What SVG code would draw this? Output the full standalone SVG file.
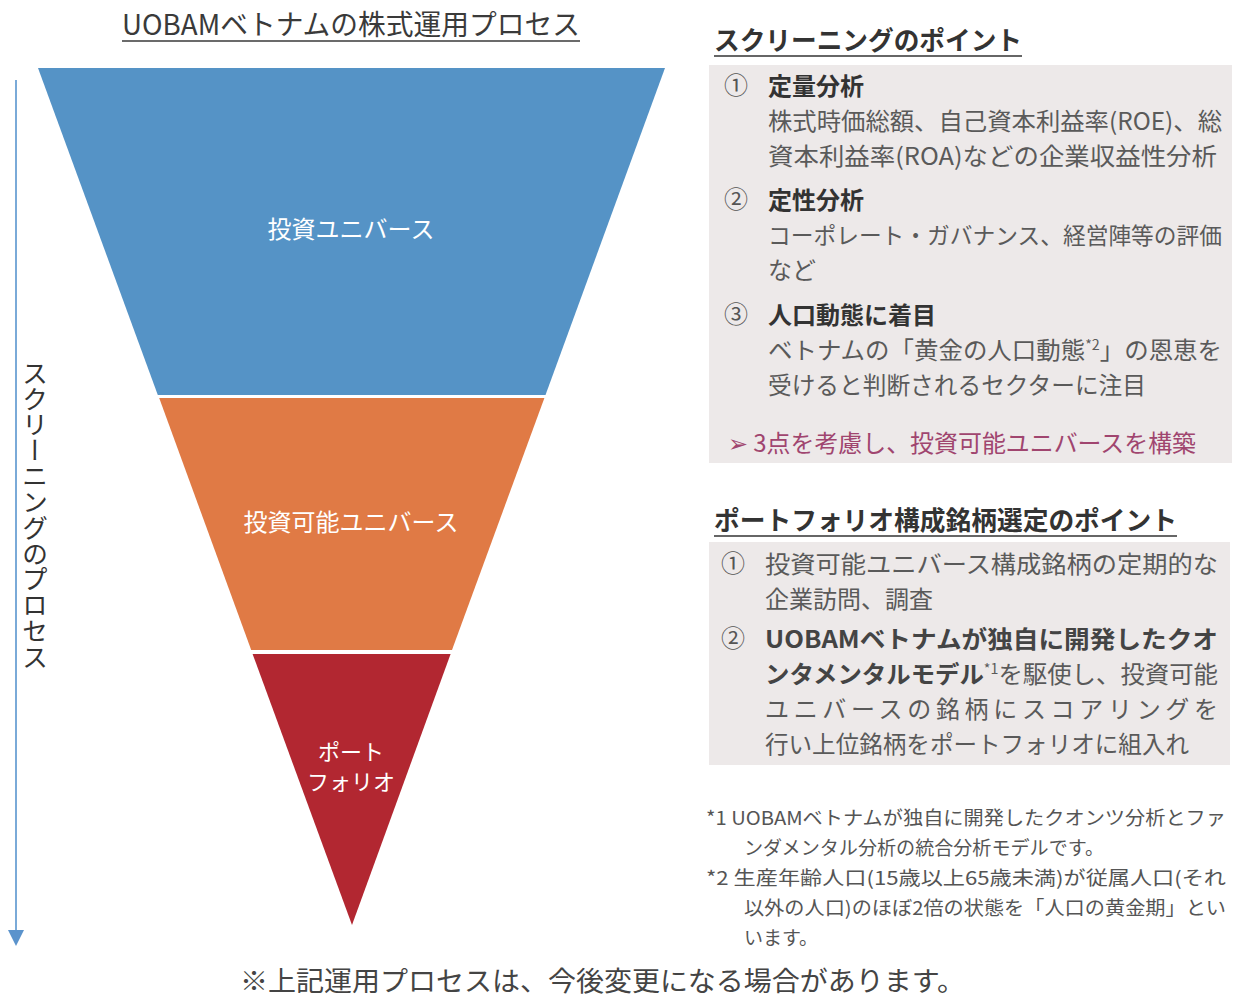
<svg xmlns="http://www.w3.org/2000/svg" width="1234" height="1000" viewBox="0 0 1234 1000">
<style>
text{font-family:"Noto Sans CJK JP","Noto Sans",sans-serif;}
.title{font-size:28px;fill:#3a3a3a;}
.head{font-size:26px;fill:#333;font-weight:bold;}
.band{font-size:24px;fill:#fff;text-anchor:middle;}
.band2{font-size:22px;fill:#fff;text-anchor:middle;}
.num{font-size:24px;fill:#555;text-anchor:middle;}
.sub{font-size:24px;fill:#333;font-weight:bold;}
.body{font-size:24px;fill:#5a5a5a;}
.bodyb{font-size:24px;fill:#444;font-weight:bold;}
.note{font-size:19px;fill:#555;}
.acc{font-size:24px;fill:#A0456F;}
.foot{font-size:27px;fill:#444;}
.sup{font-size:14px;}
</style>
<rect width="1234" height="1000" fill="#fff"/>

<g id="title">
<text class="title" x="122" y="35" textLength="458" lengthAdjust="spacingAndGlyphs">UOBAMベトナムの株式運用プロセス</text>
<line x1="122" y1="41" x2="580" y2="41" stroke="#3a3a3a" stroke-width="1.5"/>
</g>

<g id="connectors">
<line x1="16" y1="80" x2="16" y2="932" stroke="#7AAAD8" stroke-width="2"/>
<polygon points="8,930 24,930 16,946" fill="#5B93CC"/>
</g>
<g id="process-label">
<text x="35" y="360" style="writing-mode:vertical-rl;font-size:26px;fill:#333;" textLength="310" lengthAdjust="spacingAndGlyphs">スクリーニングのプロセス</text>
</g>

<g id="universe">
<polygon points="38,68 665,68 545.5,395 157.8,395" fill="#5593C6"/>
<text class="band" x="351" y="238">投資ユニバース</text>
</g>
<g id="investable">
<polygon points="159.2,398 544.4,398 452,650 251.2,650" fill="#E07A45"/>
<text class="band" x="351" y="531">投資可能ユニバース</text>
</g>
<g id="portfolio">
<polygon points="252.6,654 450.6,654 352,925" fill="#B22731"/>
<text class="band2" x="351" y="760">ポート</text>
<text class="band2" x="351" y="790">フォリオ</text>
</g>

<g id="screening">
<text class="head" x="714" y="50" textLength="308" lengthAdjust="spacingAndGlyphs">スクリーニングのポイント</text>
<line x1="714" y1="56" x2="1022" y2="56" stroke="#333" stroke-width="1.5"/>
<rect x="709" y="65" width="523" height="398" fill="#EDE9E9"/>
<text class="num" x="736" y="94">①</text>
<text class="sub" x="768" y="95">定量分析</text>
<text class="body" x="768" y="130" textLength="454" lengthAdjust="spacingAndGlyphs">株式時価総額、自己資本利益率(ROE)、総</text>
<text class="body" x="768" y="165" textLength="449" lengthAdjust="spacingAndGlyphs">資本利益率(ROA)などの企業収益性分析</text>
<text class="num" x="736" y="208">②</text>
<text class="sub" x="768" y="209">定性分析</text>
<text class="body" x="768" y="244" style="font-size:23px" textLength="454" lengthAdjust="spacingAndGlyphs">コーポレート・ガバナンス、経営陣等の評価</text>
<text class="body" x="768" y="279">など</text>
<text class="num" x="736" y="323">③</text>
<text class="sub" x="768" y="324">人口動態に着目</text>
<text class="body" x="768" y="359" textLength="454" lengthAdjust="spacingAndGlyphs">ベトナムの「黄金の人口動態<tspan class="sup" dy="-9">*2</tspan><tspan dy="9">」の恩恵を</tspan></text>
<text class="body" x="768" y="394" textLength="378" lengthAdjust="spacingAndGlyphs">受けると判断されるセクターに注目</text>
<text class="acc" x="728" y="452" textLength="468" lengthAdjust="spacingAndGlyphs">➢ 3点を考慮し、投資可能ユニバースを構築</text>
</g>

<g id="portfolio-points">
<text class="head" x="714" y="530" textLength="463" lengthAdjust="spacingAndGlyphs">ポートフォリオ構成銘柄選定のポイント</text>
<line x1="714" y1="536" x2="1177" y2="536" stroke="#333" stroke-width="1.5"/>
<rect x="709" y="542" width="521" height="223" fill="#EDE9E9"/>
<text class="num" x="733" y="572">①</text>
<text class="body" x="765" y="573" textLength="453" lengthAdjust="spacingAndGlyphs">投資可能ユニバース構成銘柄の定期的な</text>
<text class="body" x="765" y="608">企業訪問、調査</text>
<text class="num" x="733" y="647">②</text>
<text class="bodyb" x="765" y="648" textLength="453" lengthAdjust="spacingAndGlyphs">UOBAMベトナムが独自に開発したクオ</text>
<text x="765" y="683" textLength="453" lengthAdjust="spacingAndGlyphs" style="font-size:24px;"><tspan class="bodyb">ンタメンタルモデル</tspan><tspan class="body sup" dy="-9" style="font-size:14px">*1</tspan><tspan class="body" dy="9">を駆使し、投資可能</tspan></text>
<text class="body" x="765" y="718" textLength="453" lengthAdjust="spacing">ユニバースの銘柄にスコアリングを</text>
<text class="body" x="765" y="753" textLength="424" lengthAdjust="spacingAndGlyphs">行い上位銘柄をポートフォリオに組入れ</text>
</g>

<g id="notes">
<text class="note" x="706" y="825" textLength="520" lengthAdjust="spacingAndGlyphs">*1 UOBAMベトナムが独自に開発したクオンツ分析とファ</text>
<text class="note" x="744" y="855" textLength="360" lengthAdjust="spacingAndGlyphs">ンダメンタル分析の統合分析モデルです。</text>
<text class="note" x="706" y="885" textLength="520" lengthAdjust="spacingAndGlyphs">*2 生産年齢人口(15歳以上65歳未満)が従属人口(それ</text>
<text class="note" x="744" y="915" textLength="482" lengthAdjust="spacingAndGlyphs">以外の人口)のほぼ2倍の状態を「人口の黄金期」とい</text>
<text class="note" x="744" y="945">います。</text>
</g>

<g id="footer">
<text class="foot" x="240" y="991" textLength="725" lengthAdjust="spacingAndGlyphs">※上記運用プロセスは、今後変更になる場合があります。</text>
</g>
</svg>
